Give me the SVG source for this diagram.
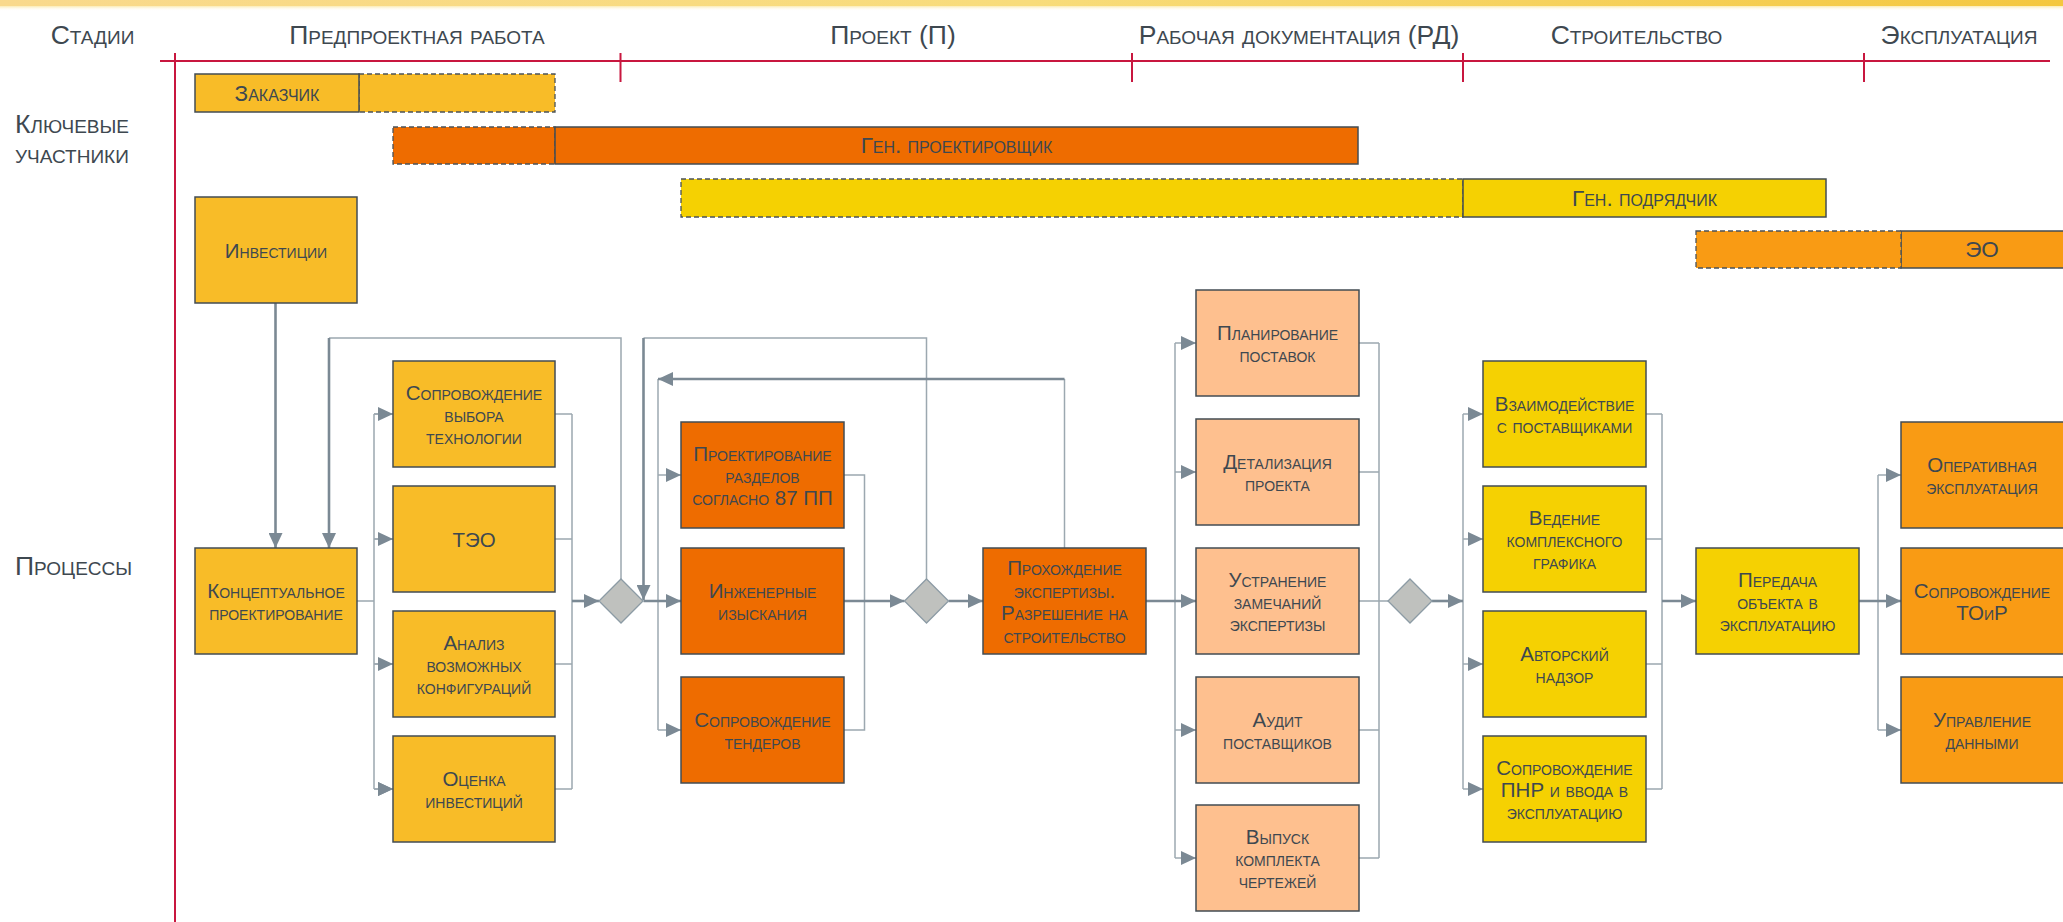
<svg xmlns="http://www.w3.org/2000/svg" width="2063" height="922" viewBox="0 0 2063 922">
<defs>
<linearGradient id="band" x1="0" y1="0" x2="1" y2="0">
<stop offset="0" stop-color="#F9D98C"/>
<stop offset="0.5" stop-color="#F8DC7A"/>
<stop offset="1" stop-color="#F4C73E"/>
</linearGradient>
<linearGradient id="fade" x1="0" y1="0" x2="0" y2="1">
<stop offset="0" stop-color="#FBE9A8" stop-opacity="0.9"/>
<stop offset="1" stop-color="#FFFFFF" stop-opacity="0"/>
</linearGradient>
<marker id="ah" markerWidth="16" markerHeight="14" refX="15" refY="7" orient="auto" markerUnits="userSpaceOnUse">
<path d="M0,0 L15,7 L0,14 z" fill="#7B8994"/>
</marker>
<style>
.box{stroke:#434C53;stroke-width:1.5}
.gold{fill:#F8BC28}
.dor{fill:#EE6C00}
.peach{fill:#FEC08F}
.yel{fill:#F5D102}
.ora{fill:#F99B14}
.dash{stroke:#4B5359;stroke-width:1.3;stroke-dasharray:5 3}
.t{font-family:"Liberation Sans",Arial,sans-serif;font-size:20.5px;font-variant:small-caps;fill:#3E4850;text-anchor:middle}
.p{font-size:22.5px}
.h{font-family:"Liberation Sans",Arial,sans-serif;font-size:26.5px;font-variant:small-caps;fill:#3E4850}
.hm{text-anchor:middle}
.red{stroke:#C8173F;stroke-width:2;fill:none}
.thin{fill:none;stroke:#9CA8B0;stroke-width:1.5}
.thick{fill:none;stroke:#7B8994;stroke-width:2.6}
.dia{fill:#BFC1BE;stroke:#8C9BA5;stroke-width:1.3}
</style>
</defs>
<rect x="0" y="0" width="2063" height="922" fill="#FFFFFF"/>
<rect x="0" y="0" width="2063" height="6" fill="url(#band)"/>
<rect x="0" y="6" width="2063" height="5" fill="url(#fade)"/>

<g id="axes">
<path class="red" d="M160,61 H2050"/>
<path class="red" d="M175,53 V922"/>
<path class="red" d="M620.5,53 V82 M1132,53 V82 M1463,53 V82 M1864,53 V82"/>
</g>

<g id="headers">
<text class="h hm" x="92.5" y="44">Стадии</text>
<text class="h hm" x="417" y="44">Предпроектная работа</text>
<text class="h hm" x="893" y="44">Проект (П)</text>
<text class="h hm" x="1299" y="44">Рабочая документация (РД)</text>
<text class="h hm" x="1636.5" y="44">Строительство</text>
<text class="h hm" x="1959" y="44">Эксплуатация</text>
<text class="h" x="15" y="133">Ключевые</text>
<text class="h" x="15" y="163">участники</text>
<text class="h" x="15" y="575">Процессы</text>
</g>

<g id="participant-zakazchik">
<rect class="gold dash" x="359" y="74" width="196" height="38"/>
<rect class="gold box" x="195" y="74" width="164" height="38"/>
<text class="t p" x="277" y="100.5">Заказчик</text>
</g>
<g id="participant-gen-proekt">
<rect class="dor dash" x="393" y="127" width="162" height="37"/>
<rect class="dor box" x="555" y="127" width="803" height="37"/>
<text class="t p" x="956.5" y="153">Ген. проектировщик</text>
</g>
<g id="participant-gen-podryad">
<rect class="yel dash" x="681" y="179" width="782" height="38"/>
<rect class="yel box" x="1463" y="179" width="363" height="38"/>
<text class="t p" x="1644.5" y="205.5">Ген. подрядчик</text>
</g>
<g id="participant-eo">
<rect class="ora box" x="1901" y="231" width="170" height="37"/>
<rect class="ora dash" x="1696" y="231" width="205" height="37"/>
<text class="t p" x="1982" y="257">ЭО</text>
</g>

<g id="connectors">
<path class="thin" d="M621,579 V338 H329"/>
<path class="thin" d="M926.5,579 V338 H643.5"/>
<path class="thin" d="M1064.5,548 V379"/>
<path class="thin" d="M357,601 H374 M374,414 V789"/>
<path class="thin" d="M374,414 H393 M374,539 H393 M374,664 H393 M374,789 H393" marker-end="url(#ah)"/>
<path class="thin" d="M374,414 H393" marker-end="url(#ah)"/>
<path class="thin" d="M374,539 H393" marker-end="url(#ah)"/>
<path class="thin" d="M374,664 H393" marker-end="url(#ah)"/>
<path class="thin" d="M374,789 H393" marker-end="url(#ah)"/>
<path class="thin" d="M555,414 H572 M555,539 H572 M555,664 H572 M555,789 H572 M572,414 V789"/>
<path class="thin" d="M658,379 V730"/>
<path class="thin" d="M658,475 H681" marker-end="url(#ah)"/>
<path class="thin" d="M658,730 H681" marker-end="url(#ah)"/>
<path class="thin" d="M844,475 H864.5 V730 H844"/>
<path class="thin" d="M1175,343 V858"/>
<path class="thin" d="M1175,343 H1196" marker-end="url(#ah)"/>
<path class="thin" d="M1175,472 H1196" marker-end="url(#ah)"/>
<path class="thin" d="M1175,730 H1196" marker-end="url(#ah)"/>
<path class="thin" d="M1175,858 H1196" marker-end="url(#ah)"/>
<path class="thin" d="M1359,343 H1379 M1359,472 H1379 M1359,730 H1379 M1359,858 H1379 M1379,343 V858 M1359,601 H1388"/>
<path class="thin" d="M1463,414 V789"/>
<path class="thin" d="M1463,414 H1483" marker-end="url(#ah)"/>
<path class="thin" d="M1463,539 H1483" marker-end="url(#ah)"/>
<path class="thin" d="M1463,664 H1483" marker-end="url(#ah)"/>
<path class="thin" d="M1463,789 H1483" marker-end="url(#ah)"/>
<path class="thin" d="M1646,414 H1662 M1646,539 H1662 M1646,664 H1662 M1646,789 H1662 M1662,414 V789"/>
<path class="thin" d="M1878,475 V730"/>
<path class="thin" d="M1878,475 H1901" marker-end="url(#ah)"/>
<path class="thin" d="M1878,730 H1901" marker-end="url(#ah)"/>
<path class="thick" d="M275.5,303 V548" marker-end="url(#ah)"/>
<path class="thick" d="M329,338 V548" marker-end="url(#ah)"/>
<path class="thick" d="M572,601 H599" marker-end="url(#ah)"/>
<path class="thick" d="M643.5,601 H681" marker-end="url(#ah)"/>
<path class="thick" d="M643.5,338 V600" marker-end="url(#ah)"/>
<path class="thick" d="M1064.5,379 H658" marker-end="url(#ah)"/>
<path class="thick" d="M844,601 H904.5" marker-end="url(#ah)"/>
<path class="thick" d="M948.5,601 H983" marker-end="url(#ah)"/>
<path class="thick" d="M1146,601 H1196" marker-end="url(#ah)"/>
<path class="thick" d="M1432,601 H1463" marker-end="url(#ah)"/>
<path class="thick" d="M1662,601 H1696" marker-end="url(#ah)"/>
<path class="thick" d="M1859,601 H1901" marker-end="url(#ah)"/>
</g>

<g id="gate1"><polygon class="dia" points="621,579 643,601 621,623 599,601"/></g>
<g id="gate2"><polygon class="dia" points="926.5,579 948.5,601 926.5,623 904.5,601"/></g>
<g id="gate3"><polygon class="dia" points="1410,579 1432,601 1410,623 1388,601"/></g>

<g id="investicii"><rect class="gold box" x="195" y="197" width="162" height="106"/>
<text class="t" x="276" y="258">Инвестиции</text></g>
<g id="koncept"><rect class="gold box" x="195" y="548" width="162" height="106"/>
<text class="t" x="276" y="597.8">Концептуальное</text><text class="t" x="276" y="620.2">проектирование</text></g>

<g id="vybor-tekhnologii"><rect class="gold box" x="393" y="361" width="162" height="106"/>
<text class="t" x="474" y="399.6">Сопровождение</text><text class="t" x="474" y="422">выбора</text><text class="t" x="474" y="444.4">технологии</text></g>
<g id="teo"><rect class="gold box" x="393" y="486" width="162" height="106"/>
<text class="t" x="474" y="547">ТЭО</text></g>
<g id="analiz"><rect class="gold box" x="393" y="611" width="162" height="106"/>
<text class="t" x="474" y="649.6">Анализ</text><text class="t" x="474" y="672">возможных</text><text class="t" x="474" y="694.4">конфигураций</text></g>
<g id="ocenka"><rect class="gold box" x="393" y="736" width="162" height="106"/>
<text class="t" x="474" y="785.8">Оценка</text><text class="t" x="474" y="808.2">инвестиций</text></g>

<g id="proektirovanie"><rect class="dor box" x="681" y="422" width="163" height="106"/>
<text class="t" x="762.5" y="460.6">Проектирование</text><text class="t" x="762.5" y="483">разделов</text><text class="t" x="762.5" y="505.4">согласно 87 ПП</text></g>
<g id="izyskaniya"><rect class="dor box" x="681" y="548" width="163" height="106"/>
<text class="t" x="762.5" y="597.8">Инженерные</text><text class="t" x="762.5" y="620.2">изыскания</text></g>
<g id="tendery"><rect class="dor box" x="681" y="677" width="163" height="106"/>
<text class="t" x="762.5" y="726.8">Сопровождение</text><text class="t" x="762.5" y="749.2">тендеров</text></g>

<g id="ekspertiza"><rect class="dor box" x="983" y="548" width="163" height="106"/>
<text class="t" x="1064.5" y="575.4">Прохождение</text><text class="t" x="1064.5" y="597.8">экспертизы.</text><text class="t" x="1064.5" y="620.2">Разрешение на</text><text class="t" x="1064.5" y="642.6">строительство</text></g>

<g id="planirovanie"><rect class="peach box" x="1196" y="290" width="163" height="106"/>
<text class="t" x="1277.5" y="339.8">Планирование</text><text class="t" x="1277.5" y="362.2">поставок</text></g>
<g id="detalizaciya"><rect class="peach box" x="1196" y="419" width="163" height="106"/>
<text class="t" x="1277.5" y="468.8">Детализация</text><text class="t" x="1277.5" y="491.2">проекта</text></g>
<g id="ustranenie"><rect class="peach box" x="1196" y="548" width="163" height="106"/>
<text class="t" x="1277.5" y="586.6">Устранение</text><text class="t" x="1277.5" y="609">замечаний</text><text class="t" x="1277.5" y="631.4">экспертизы</text></g>
<g id="audit"><rect class="peach box" x="1196" y="677" width="163" height="106"/>
<text class="t" x="1277.5" y="726.8">Аудит</text><text class="t" x="1277.5" y="749.2">поставщиков</text></g>
<g id="vypusk"><rect class="peach box" x="1196" y="805" width="163" height="106"/>
<text class="t" x="1277.5" y="843.6">Выпуск</text><text class="t" x="1277.5" y="866">комплекта</text><text class="t" x="1277.5" y="888.4">чертежей</text></g>

<g id="vzaimodeistvie"><rect class="yel box" x="1483" y="361" width="163" height="106"/>
<text class="t" x="1564.5" y="410.8">Взаимодействие</text><text class="t" x="1564.5" y="433.2">с поставщиками</text></g>
<g id="grafik"><rect class="yel box" x="1483" y="486" width="163" height="106"/>
<text class="t" x="1564.5" y="524.6">Ведение</text><text class="t" x="1564.5" y="547">комплексного</text><text class="t" x="1564.5" y="569.4">графика</text></g>
<g id="nadzor"><rect class="yel box" x="1483" y="611" width="163" height="106"/>
<text class="t" x="1564.5" y="660.8">Авторский</text><text class="t" x="1564.5" y="683.2">надзор</text></g>
<g id="pnr"><rect class="yel box" x="1483" y="736" width="163" height="106"/>
<text class="t" x="1564.5" y="774.6">Сопровождение</text><text class="t" x="1564.5" y="797">ПНР и ввода в</text><text class="t" x="1564.5" y="819.4">эксплуатацию</text></g>

<g id="peredacha"><rect class="yel box" x="1696" y="548" width="163" height="106"/>
<text class="t" x="1777.5" y="586.6">Передача</text><text class="t" x="1777.5" y="609">объекта в</text><text class="t" x="1777.5" y="631.4">эксплуатацию</text></g>

<g id="operativnaya"><rect class="ora box" x="1901" y="422" width="166" height="106"/>
<text class="t" x="1982" y="471.8">Оперативная</text><text class="t" x="1982" y="494.2">эксплуатация</text></g>
<g id="toir"><rect class="ora box" x="1901" y="548" width="166" height="106"/>
<text class="t" x="1982" y="597.8">Сопровождение</text><text class="t" x="1982" y="620.2">ТОиР</text></g>
<g id="dannye"><rect class="ora box" x="1901" y="677" width="166" height="106"/>
<text class="t" x="1982" y="726.8">Управление</text><text class="t" x="1982" y="749.2">данными</text></g>
</svg>
